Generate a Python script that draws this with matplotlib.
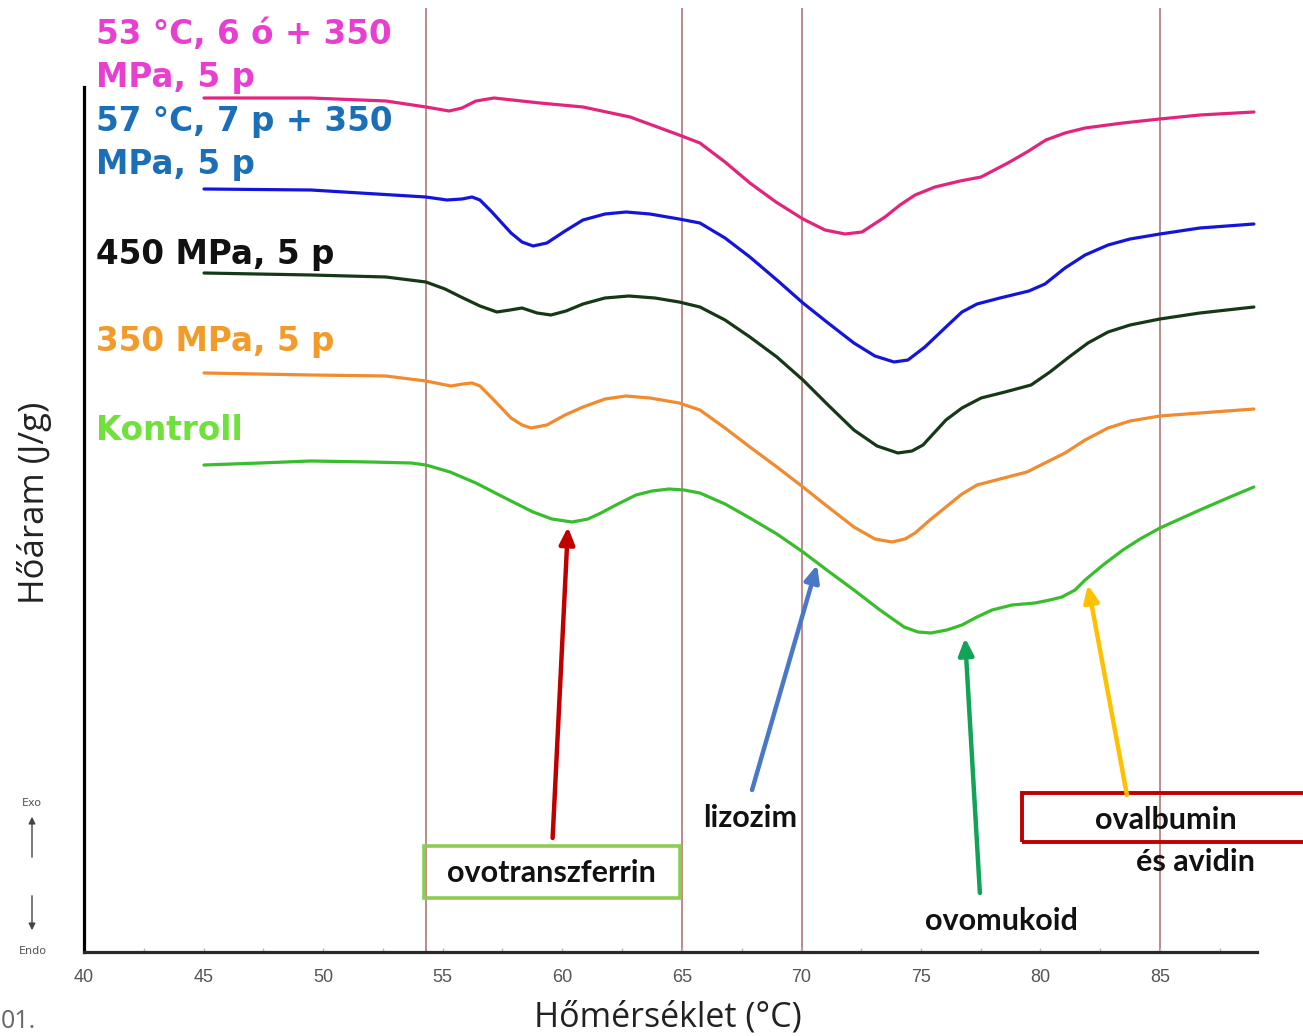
import matplotlib
matplotlib.use("Agg")
import matplotlib.pyplot as plt
from matplotlib.patches import Rectangle, FancyArrowPatch

# ---------------- data (temperature in °C, heat flow in arbitrary units) ----------------
pink_T = [45.02, 49.49, 52.63, 54.30, 55.27, 55.81, 56.39, 57.15, 59.07, 60.87, 62.84, 64.89,
          65.76, 66.81, 67.85, 68.94, 70.07, 70.99, 71.83, 72.54, 73.50, 74.13, 74.76, 75.59,
          76.64, 77.52, 78.64, 79.44, 80.23, 81.03, 81.87, 83.45, 85.00, 86.67, 88.93]
pink_Q = [8.54, 8.54, 8.51, 8.45, 8.41, 8.44, 8.51, 8.54, 8.49, 8.45, 8.35, 8.17,
          8.09, 7.90, 7.69, 7.50, 7.33, 7.22, 7.18, 7.20, 7.35, 7.47, 7.57, 7.65,
          7.71, 7.75, 7.89, 8.00, 8.12, 8.19, 8.24, 8.29, 8.33, 8.37, 8.40]

blue_T = [45.02, 49.49, 54.30, 55.18, 55.81, 56.23, 56.56, 57.06, 57.86, 58.32, 58.78, 59.36,
          60.12, 60.87, 61.79, 62.67, 63.67, 64.89, 65.76, 66.81, 67.85, 68.98, 70.07, 71.12,
          72.20, 73.08, 73.88, 74.46, 75.17, 76.05, 76.72, 77.35, 78.31, 79.52, 80.19, 81.03,
          81.87, 82.83, 83.75, 85.00, 86.67, 88.93]
blue_Q = [7.63, 7.62, 7.55, 7.52, 7.53, 7.55, 7.52, 7.40, 7.19, 7.10, 7.06, 7.09,
          7.21, 7.32, 7.38, 7.40, 7.38, 7.33, 7.29, 7.14, 6.95, 6.72, 6.49, 6.29,
          6.09, 5.96, 5.90, 5.92, 6.05, 6.25, 6.40, 6.48, 6.54, 6.61, 6.68, 6.84,
          6.97, 7.07, 7.13, 7.18, 7.24, 7.28]

black_T = [45.02, 49.49, 52.63, 54.30, 55.10, 55.77, 56.56, 57.27, 57.82, 58.32, 58.95, 59.53,
           60.16, 60.87, 61.79, 62.79, 63.88, 64.89, 65.76, 66.81, 67.85, 68.98, 70.07, 71.12,
           72.20, 73.17, 74.04, 74.63, 75.09, 76.05, 76.72, 77.52, 78.52, 79.61, 80.40, 81.20,
           81.99, 82.83, 83.75, 85.00, 86.67, 88.93]
black_Q = [6.79, 6.77, 6.75, 6.70, 6.63, 6.55, 6.46, 6.40, 6.42, 6.44, 6.39, 6.37,
           6.41, 6.48, 6.54, 6.56, 6.54, 6.50, 6.45, 6.32, 6.15, 5.95, 5.72, 5.47,
           5.22, 5.06, 4.99, 5.01, 5.07, 5.32, 5.44, 5.54, 5.60, 5.67, 5.80, 5.95,
           6.09, 6.20, 6.27, 6.33, 6.39, 6.45]

orange_T = [45.02, 49.49, 52.63, 54.30, 55.35, 55.85, 56.23, 56.56, 57.06, 57.86, 58.32, 58.70,
            59.36, 60.12, 60.87, 61.79, 62.67, 63.67, 64.89, 65.76, 66.81, 67.85, 68.98, 70.07,
            71.12, 72.20, 73.08, 73.79, 74.34, 74.76, 75.38, 76.05, 76.72, 77.35, 78.31, 79.44,
            80.19, 81.03, 81.87, 82.83, 83.75, 85.00, 86.67, 88.93]
orange_Q = [5.79, 5.77, 5.76, 5.71, 5.66, 5.68, 5.69, 5.66, 5.54, 5.34, 5.27, 5.24,
            5.27, 5.37, 5.45, 5.53, 5.56, 5.54, 5.49, 5.42, 5.24, 5.05, 4.85, 4.65,
            4.45, 4.25, 4.13, 4.10, 4.13, 4.19, 4.32, 4.45, 4.58, 4.67, 4.73, 4.80,
            4.89, 4.99, 5.12, 5.24, 5.31, 5.36, 5.39, 5.43]

green_T = [45.02, 47.36, 49.49, 51.96, 53.68, 54.30, 55.31, 56.39, 57.61, 58.78, 59.57, 60.41,
           61.08, 61.62, 62.33, 63.09, 63.76, 64.47, 65.09, 65.76, 66.81, 67.85, 68.98, 70.07,
           71.12, 72.20, 73.29, 74.30, 74.88, 75.42, 76.09, 76.72, 77.35, 77.98, 78.81, 79.77,
           80.40, 80.90, 81.45, 81.87, 82.62, 83.45, 84.17, 85.00, 86.67, 87.93, 88.93]
green_Q = [4.87, 4.89, 4.91, 4.90, 4.89, 4.87, 4.80, 4.69, 4.54, 4.40, 4.33, 4.30,
           4.33, 4.39, 4.48, 4.57, 4.61, 4.63, 4.62, 4.59, 4.48, 4.34, 4.18, 4.00,
           3.81, 3.62, 3.42, 3.25, 3.20, 3.19, 3.22, 3.27, 3.35, 3.42, 3.47, 3.49,
           3.52, 3.55, 3.62, 3.72, 3.87, 4.02, 4.13, 4.24, 4.42, 4.55, 4.65]

series_labels = [["53 °C, 6 ó + 350", "MPa, 5 p"], ["57 °C, 7 p + 350", "MPa, 5 p"],
                 ["450 MPa, 5 p"], ["350 MPa, 5 p"], ["Kontroll"]]
ref_lines = [54.3, 65.0, 70.05, 85.0]
xticks = [40, 45, 50, 55, 60, 65, 70, 75, 80, 85]

peak_names = ["ovotranszferrin", "lizozim", "ovomukoid", "ovalbumin", "és avidin"]

# ---------------- figure ----------------
W, H = 1303, 1036
fig = plt.figure(figsize=(W / 100, H / 100), dpi=100)
ax = fig.add_axes([84 / W, (H - 952) / H, (1257 - 84) / W, (952 - 8) / H])
ax.set_xlim(40, 89.06)
ax.set_ylim(0, 9.44)

for xv in ref_lines:
    ax.axvline(xv, color="#b0686c", lw=1.1, zorder=1)

lw = 2.3
kw = dict(lw=lw, zorder=3, solid_joinstyle="round", solid_capstyle="round")
ax.plot(pink_T, pink_Q, color="#e3247c", **kw)
ax.plot(blue_T, blue_Q, color="#1414dc", **kw)
ax.plot(black_T, black_Q, color="#163816", **kw)
ax.plot(orange_T, orange_Q, color="#f28a2e", **kw)
ax.plot(green_T, green_Q, color="#38bd2c", **kw)

# spines
for s in ["top", "right"]:
    ax.spines[s].set_visible(False)
ax.spines["left"].set_linewidth(2.3)
ax.spines["left"].set_color("black")
ax.spines["left"].set_bounds(0, 8.65)
ax.spines["bottom"].set_linewidth(2.3)
ax.spines["bottom"].set_color("#2a2a2a")
ax.set_yticks([])
ax.set_xticks(xticks)
ax.set_xticks([x + 2.5 for x in xticks], minor=True)
ax.tick_params(axis="x", which="both", direction="in", length=3, color="#bbbbbb", width=1, pad=12)
for lab in ax.get_xticklabels():
    lab.set_family(["Liberation Sans Narrow", "Liberation Sans", "DejaVu Sans"])
    lab.set_fontsize(13)
    lab.set_color("#555555")

fig.text(668 / W, 1 - 1017 / H, "Hőmérséklet (°C)", ha="center", va="center",
         fontsize=24.5, family="Open Sans", color="#222222")
fig.text(35 / W, 1 - 503 / H, "Hőáram (J/g)", ha="center", va="center", rotation=90,
         fontsize=25, family="Open Sans", color="#222222")
fig.text(1 / W, 2 / H, "01.", ha="left", va="bottom", fontsize=18,
         family="Open Sans", color="#666666")

# Exo / Endo indicator
fig.text(32 / W, 1 - 803 / H, "Exo", ha="center", va="center", fontsize=8, color="#555555")
fig.text(33 / W, 1 - 951 / H, "Endo", ha="center", va="center", fontsize=8, color="#555555")
fig.patches.append(FancyArrowPatch(
    (32 / W, 1 - 860 / H), (32 / W, 1 - 814 / H), transform=fig.transFigure,
    arrowstyle="-|>,head_length=4,head_width=2", color="#444444", lw=1.0))
fig.patches.append(FancyArrowPatch(
    (32 / W, 1 - 893 / H), (32 / W, 1 - 933 / H), transform=fig.transFigure,
    arrowstyle="-|>,head_length=4,head_width=2", color="#444444", lw=1.0))

# series labels
lab_font = "DejaVu Sans"
lab_specs = [("#e83fd0", [9.17, 8.74]), ("#1b6fb6", [8.30, 7.87]), ("#111111", [6.97]),
             ("#f29a2a", [6.10]), ("#6fe03c", [5.22])]
for lines, (col, ys) in zip(series_labels, lab_specs):
    for txt, yv in zip(lines, ys):
        ax.text(40.5, yv, txt, ha="left", va="center", fontsize=23.5, fontweight="bold",
                family=lab_font, color=col, zorder=2, clip_on=False)

# annotation boxes and texts
ann_font = ["Lato", "DejaVu Sans"]
ax.add_patch(Rectangle((54.22, 0.54), 64.93 - 54.22, 1.06 - 0.54, fill=False,
                       edgecolor="#8dcb52", lw=2.6, zorder=4))
ax.add_patch(Rectangle((79.23, 1.10), 12.0, 1.59 - 1.10, fill=False,
                       edgecolor="#c00000", lw=2.8, zorder=4, clip_on=False))
ann_pos = [(59.57, 0.79), (67.85, 1.34), (78.39, 0.31), (85.25, 1.32), (86.5, 0.90)]
for name, (tx, ty) in zip(peak_names, ann_pos):
    ax.text(tx, ty, name, ha="center", va="center", fontsize=22, fontweight="bold",
            family=ann_font, color="#111111", zorder=5, clip_on=False)

# arrows (tail -> tip)
arrows = [((59.6, 1.14), (60.24, 4.25), "#c00000"),
          ((67.94, 1.62), (70.66, 3.87), "#4a78c8"),
          ((77.47, 0.59), (76.85, 3.14), "#11a456"),
          ((83.62, 1.57), (81.99, 3.67), "#ffc000")]
for tail, tip, col in arrows:
    ax.annotate("", xy=tip, xytext=tail,
                arrowprops=dict(arrowstyle="-|>,head_length=1.0,head_width=0.45",
                                color=col, lw=3.2, shrinkA=0, shrinkB=0), zorder=5)

fig.savefig("out.png", dpi=100)
